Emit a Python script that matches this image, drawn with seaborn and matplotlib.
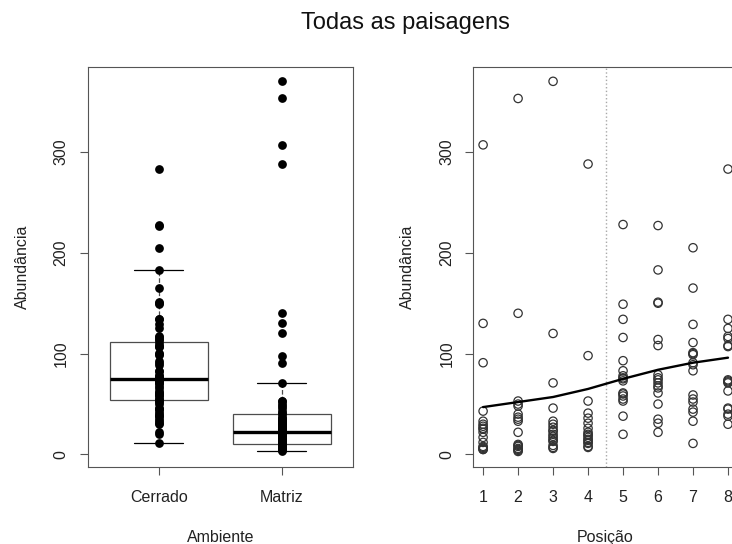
import numpy as np
import pandas as pd
import matplotlib
matplotlib.use("Agg")
import matplotlib.pyplot as plt
import seaborn as sns

# Abundância em cada posição do transecto (1–4: matriz, 5–8: cerrado)
abund_p1 = [307, 130, 91, 43, 33, 30, 28, 26, 25, 22, 17, 12, 8, 7, 6, 5, 5]
abund_p2 = [353, 140, 53, 50, 48, 40, 37, 35, 33, 22, 10, 9, 8, 6, 5, 4, 3]
abund_p3 = [370, 120, 71, 46, 33, 30, 27, 24, 23, 20, 18, 16, 14, 13, 9, 7, 6]
abund_p4 = [288, 98, 53, 41, 36, 31, 26, 22, 20, 19, 17, 15, 14, 12, 11, 8, 7]
abund_p5 = [228, 149, 134, 116, 93, 83, 78, 76, 75, 73, 61, 60, 58, 55, 53, 38, 20]
abund_p6 = [227, 183, 151, 150, 114, 108, 79, 76, 74, 71, 68, 66, 61, 50, 35, 31, 22]
abund_p7 = [205, 165, 129, 111, 101, 100, 99, 91, 89, 83, 59, 55, 52, 45, 42, 33, 11]
abund_p8 = [283, 134, 125, 117, 115, 108, 107, 74, 73, 72, 71, 63, 46, 45, 40, 38, 30]

posicoes = [1, 2, 3, 4, 5, 6, 7, 8]
ambiente_pos = ["Matriz", "Matriz", "Matriz", "Matriz",
                "Cerrado", "Cerrado", "Cerrado", "Cerrado"]
ordem_ambiente = ["Cerrado", "Matriz"]

# Curva lowess (valor ajustado em cada posição)
curva_lowess = [47, 52, 57, 65, 75, 84, 91, 96]

titulo = "Todas as paisagens"

# Tabela longa
linhas = []
for pos, amb, vals in zip(posicoes, ambiente_pos,
                          [abund_p1, abund_p2, abund_p3, abund_p4,
                           abund_p5, abund_p6, abund_p7, abund_p8]):
    for v in vals:
        linhas.append({"posicao": pos, "ambiente": amb, "abundancia": v})
df = pd.DataFrame(linhas)

sns.set_theme(style="white")
plt.rcParams["font.family"] = ["Liberation Sans", "DejaVu Sans"]
plt.rcParams["axes.edgecolor"] = "#555555"
plt.rcParams["axes.linewidth"] = 0.8

W, H = 732, 544
fig = plt.figure(figsize=(W / 100, H / 100), dpi=100)
fig.patch.set_facecolor("white")

ax1 = fig.add_axes([87.5 / W, 1 - 467.3 / H, (353 - 87.5) / W, (467.3 - 66.5) / H])
ax2 = fig.add_axes([473.3 / W, 1 - 467.3 / H, (737.8 - 473.3) / W, (467.3 - 66.5) / H])

# Painel esquerdo: boxplot + pontos
sns.boxplot(data=df, x="ambiente", y="abundancia", order=ordem_ambiente, ax=ax1,
            color="white", linecolor="#4d4d4d", linewidth=0.9, width=0.8,
            whis=1.5, showfliers=False,
            medianprops=dict(color="black", linewidth=2.4),
            whiskerprops=dict(linestyle="--", color="#4d4d4d"),
            capprops=dict(color="black", linewidth=0.9))
sns.stripplot(data=df, x="ambiente", y="abundancia", order=ordem_ambiente, ax=ax1,
              jitter=False, color="black", size=6.3, linewidth=0, zorder=4)
ax1.set_xlim(-0.58, 1.58)

# Painel direito: dispersão por posição + curva
sns.scatterplot(data=df, x="posicao", y="abundancia", ax=ax2, marker="o", s=36,
                facecolors="none", edgecolors="#333333", linewidth=0.9, zorder=3)
ax2.axvline(4.5, color="#a8a8a8", linestyle=":", linewidth=1.0, zorder=1)
sns.lineplot(x=posicoes, y=curva_lowess, ax=ax2, color="black", linewidth=1.7, zorder=4)
ax2.set_xlim(0.72, 8.28)
ax2.set_xticks(posicoes)

for ax, xlab in [(ax1, "Ambiente"), (ax2, "Posição")]:
    ax.set_ylim(-12.7, 384.7)
    ax.set_yticks([0, 100, 200, 300])
    ax.tick_params(axis="both", direction="out", length=6, width=0.8,
                   color="#555555", labelsize=11.5, labelcolor="#222222",
                   left=True, bottom=True)
    ax.tick_params(axis="x", pad=10.5)
    ax.tick_params(axis="y", labelrotation=90, pad=7.5)
    for t in ax.get_yticklabels():
        t.set_verticalalignment("center")
    for s in ax.spines.values():
        s.set_visible(True)
        s.set_color("#555555")
        s.set_linewidth(0.8)
    ax.set_xlabel(xlab, fontsize=11.5, color="#222222")
    ax.set_ylabel("Abundância", fontsize=11.5, color="#222222")
    ax.xaxis.label.set_verticalalignment("center")
    ax.yaxis.label.set_verticalalignment("center")
    ax.grid(False)

ax1.xaxis.set_label_coords(0.5, -70.2 / 400.8)
ax2.xaxis.set_label_coords(0.5, -70.2 / 400.8)
ax1.yaxis.set_label_coords((22 - 87.5) / 265.5, 0.5)
ax2.yaxis.set_label_coords((407 - 473.3) / 264.5, 0.5)

fig.text(405 / W, 1 - 23.5 / H, titulo, ha="center", va="center",
         fontsize=17, color="#111111")

fig.savefig("out.png", dpi=100, facecolor="white")
